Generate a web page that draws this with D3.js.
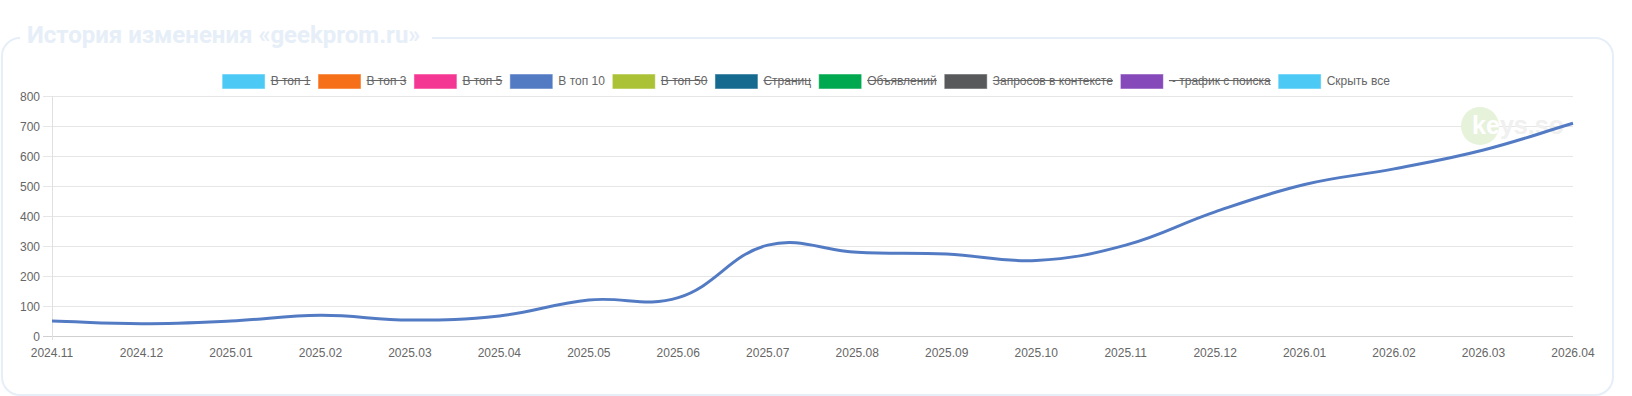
<!DOCTYPE html>
<html><head><meta charset="utf-8">
<script src="https://cdn.jsdelivr.net/npm/d3@7/dist/d3.min.js"></script>
<style>
html,body{margin:0;padding:0;background:#fff;}
svg{display:block;}
</style></head>
<body>
<svg id="chart" width="1632" height="396"></svg>
<script>
const title = "История изменения «geekprom.ru»";
const categories = ["2024.11","2024.12","2025.01","2025.02","2025.03","2025.04","2025.05","2025.06","2025.07","2025.08","2025.09","2025.10","2025.11","2025.12","2026.01","2026.02","2026.03","2026.04"];
const top10Values = [50,41,50,69,53,67,120,128,303,279,273,252,303,414,505,557,620,709];
const yTicks = [0,100,200,300,400,500,600,700,800];
const legendLabels = ["В топ 1","В топ 3","В топ 5","В топ 10","В топ 50","Страниц","Объявлений","Запросов в контексте","~ трафик с поиска","Скрыть все"];
const legendColors = ["#4dc9f6","#f67019","#f53794","#537bc4","#acc236","#166a8f","#00a950","#58595b","#8549ba","#4dc9f6"];
const legendHidden = [true,true,true,false,true,true,true,true,true,false];

const svg = d3.select("#chart");
const plot = {left:52, right:1573, top:96, bottom:336};
const font = "'Liberation Sans', Arial, sans-serif";

// Card
const card = {x:2, y:38, w:1611, h:357, r:18};
const cardColor = "#e6eef8";
const gapEnd = 432;
const p = d3.path();
p.moveTo(gapEnd, card.y);
p.lineTo(card.x + card.w - card.r, card.y);
p.arcTo(card.x + card.w, card.y, card.x + card.w, card.y + card.r, card.r);
p.lineTo(card.x + card.w, card.y + card.h - card.r);
p.arcTo(card.x + card.w, card.y + card.h, card.x + card.w - card.r, card.y + card.h, card.r);
p.lineTo(card.x + card.r, card.y + card.h);
p.arcTo(card.x, card.y + card.h, card.x, card.y + card.h - card.r, card.r);
p.lineTo(card.x, card.y + card.r);
p.arcTo(card.x, card.y, card.x + card.r, card.y, card.r);
svg.append("path").attr("d", p.toString()).attr("fill","none").attr("stroke",cardColor).attr("stroke-width",2);

svg.append("text").attr("x",27).attr("y",43).text(title)
  .attr("font-family","Roboto, sans-serif").attr("font-weight",700).attr("font-size",24)
  .attr("fill","#e6eef8");

// Scales
const x = d3.scalePoint().domain(categories).range([plot.left, plot.right]);
const y = d3.scaleLinear().domain([0,800]).range([plot.bottom, plot.top]);

// Gridlines
svg.append("g").selectAll("line").data(yTicks).join("line")
  .attr("x1", plot.left - 9).attr("x2", plot.right)
  .attr("y1", d => y(d)+0.5).attr("y2", d => y(d)+0.5)
  .attr("stroke", d => d===0 ? "#d0d0d0" : "#e6e6e6").attr("stroke-width",1);
svg.append("line").attr("x1",plot.left+0.5).attr("x2",plot.left+0.5)
  .attr("y1",plot.top).attr("y2",plot.bottom+4).attr("stroke","#e0e0e0");

// Y labels
svg.append("g").selectAll("text").data(yTicks).join("text")
  .attr("x", plot.left - 12).attr("y", d => y(d)+4.5)
  .attr("text-anchor","end").attr("font-family",font).attr("font-size",12).attr("fill","#666")
  .text(d => d);

// X labels
svg.append("g").selectAll("text").data(categories).join("text")
  .attr("x", d => x(d)).attr("y", 357)
  .attr("text-anchor","middle").attr("font-family",font).attr("font-size",12).attr("fill","#666")
  .text(d => d);

// Watermark
const wm = svg.append("g");
wm.append("circle").attr("cx",1480).attr("cy",126).attr("r",19).attr("fill","#e6f2da");
wm.append("text").attr("x",1472).attr("y",134).text("keys.so")
  .attr("font-family",font).attr("font-weight",700).attr("font-size",26)
  .attr("textLength",92).attr("lengthAdjust","spacingAndGlyphs").attr("fill","#f0f0f0");
svg.append("clipPath").attr("id","wmclip").append("circle").attr("cx",1480).attr("cy",126).attr("r",19);
wm.append("text").attr("x",1472).attr("y",134).text("keys.so").attr("clip-path","url(#wmclip)")
  .attr("font-family",font).attr("font-weight",700).attr("font-size",26)
  .attr("textLength",92).attr("lengthAdjust","spacingAndGlyphs").attr("fill","#ffffff");

// Chart.js-like spline line
const pts = categories.map((c,i) => ({x:x(c), y:y(top10Values[i])}));
const tension = 0.4;
const cps = pts.map((mid,i) => {
  const prev = pts[i-1] || mid, next = pts[i+1] || mid;
  const d01 = Math.hypot(mid.x-prev.x, mid.y-prev.y);
  const d12 = Math.hypot(next.x-mid.x, next.y-mid.y);
  let s01 = d01/(d01+d12), s12 = d12/(d01+d12);
  if (isNaN(s01)) s01 = 0; if (isNaN(s12)) s12 = 0;
  const fa = tension*s01, fb = tension*s12;
  const clampY = v => Math.max(plot.top, Math.min(plot.bottom, v));
  return {
    px: mid.x - fa*(next.x-prev.x), py: clampY(mid.y - fa*(next.y-prev.y)),
    nx: mid.x + fb*(next.x-prev.x), ny: clampY(mid.y + fb*(next.y-prev.y))
  };
});
const lp = d3.path();
lp.moveTo(pts[0].x, pts[0].y);
for (let i=1;i<pts.length;i++){
  lp.bezierCurveTo(cps[i-1].nx, cps[i-1].ny, cps[i].px, cps[i].py, pts[i].x, pts[i].y);
}
svg.append("path").attr("d", lp.toString()).attr("fill","none")
  .attr("stroke","#537bc4").attr("stroke-width",3).attr("stroke-linejoin","round");

// Legend (centered)
const lg = svg.append("g");
const boxW = 43, boxH = 14, boxY = 74, textY = 85, textOff = 5.5, itemGap = 7.5;
let lx = 0;
legendLabels.forEach((lab,i) => {
  const g = lg.append("g");
  g.append("rect").attr("x",lx+0.5).attr("y",boxY+0.5).attr("width",boxW-1).attr("height",boxH)
    .attr("fill",legendColors[i]).attr("stroke",legendColors[i]).attr("stroke-opacity",0.5).attr("stroke-width",1);
  const tx = lx + boxW + textOff;
  const t = g.append("text").attr("x",tx).attr("y",textY).text(lab)
    .attr("font-family",font).attr("font-size",12).attr("fill","#666");
  const tw = t.node().getComputedTextLength();
  if (legendHidden[i]) {
    g.append("line").attr("x1",tx).attr("x2",tx+tw).attr("y1",textY-4.5).attr("y2",textY-4.5)
      .attr("stroke","#666").attr("stroke-width",1);
  }
  lx = tx + tw + itemGap;
});
const totalW = lx - itemGap;
lg.attr("transform", `translate(${806 - totalW/2},0)`);
</script>
</body></html>
